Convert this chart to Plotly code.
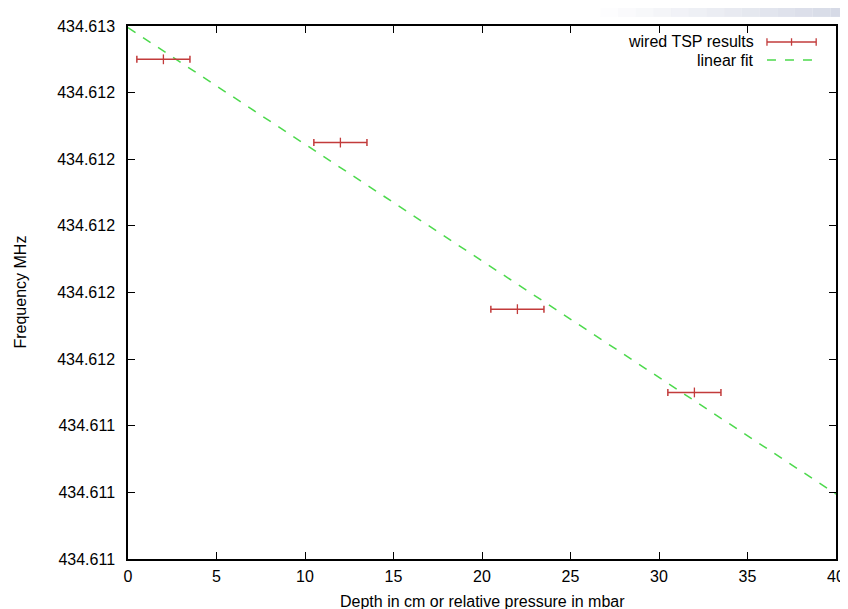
import numpy as np
import plotly.graph_objects as go

# Messwerte: Tiefe (cm) und Frequenz (MHz), x-Fehler +-1.5
depth = [2, 12, 22, 32]
freq = [434.6125, 434.61225, 434.61175, 434.6115]
depth_err = [1.5, 1.5, 1.5, 1.5]

x_ticks = [0, 5, 10, 15, 20, 25, 30, 35, 40]
y_ticks = [434.6110, 434.6112, 434.6114, 434.6116, 434.6118,
           434.6120, 434.6122, 434.6124, 434.6126]

red = "#c23b3b"
green = "#4cd94c"

# lineare Regression
slope, icept = np.polyfit(depth, freq, 1)
fit_x = [x_ticks[0], x_ticks[-1]]
fit_y = [icept + slope * xv for xv in fit_x]

fig = go.Figure()
fig.add_trace(go.Scatter(
    x=fit_x, y=fit_y, mode="lines",
    line=dict(color=green, width=1.5, dash="dash"),
    showlegend=False,
))
fig.add_trace(go.Scatter(
    x=depth, y=freq, mode="markers",
    marker=dict(symbol="line-ns", size=7, line=dict(color=red, width=1.3)),
    error_x=dict(type="data", array=depth_err, color=red, thickness=1.5, width=3.5),
    showlegend=False,
))

# Legende im gnuplot-Stil (Text links, Symbol rechts)
fig.add_annotation(x=0.887, y=0.970, xref="paper", yref="paper", text="wired TSP results",
                   showarrow=False, xanchor="right", yanchor="middle")
fig.add_annotation(x=0.887, y=0.936, xref="paper", yref="paper", text="linear fit",
                   showarrow=False, xanchor="right", yanchor="middle")

# Achsentitel
fig.add_annotation(x=0.5, y=-0.079, xref="paper", yref="paper",
                   text="Depth in cm or relative pressure in mbar",
                   showarrow=False, xanchor="center", yanchor="middle")
fig.add_annotation(x=-0.1525, y=0.5, xref="paper", yref="paper", text="Frequency MHz",
                   textangle=-90, showarrow=False, xanchor="center", yanchor="middle")

shapes = []
# Legendensymbole
shapes.append(dict(type="line", xref="paper", yref="paper", x0=0.9025, x1=0.972,
                   y0=0.970, y1=0.970, line=dict(color=red, width=1.5)))
for xs in [0.9025, 0.9372, 0.972]:
    shapes.append(dict(type="line", xref="paper", yref="paper", x0=xs, x1=xs,
                       y0=0.963, y1=0.977, line=dict(color=red, width=1.3)))
shapes.append(dict(type="line", xref="paper", yref="paper", x0=0.9025, x1=0.972,
                   y0=0.936, y1=0.936, line=dict(color=green, width=1.5, dash="dash")))

# Hintergrund-Deko (Folien-Verlauf oben rechts)
for i in range(14):
    shapes.append(dict(type="rect", xref="paper", yref="paper",
                       x0=0.667 + i * 0.025, x1=0.667 + (i + 1) * 0.025,
                       y0=1.017, y1=1.04, line_width=0,
                       fillcolor="rgba(205,210,225,%.2f)" % (0.04 + i * 0.06), layer="below"))
fig.update_layout(shapes=shapes)

# Seite hat 8px Rand -> Figur etwas kleiner
fig.update_layout(
    width=840, height=601,
    margin=dict(l=120, r=12, t=18, b=50),
    paper_bgcolor="white", plot_bgcolor="white",
    font=dict(family="Liberation Sans, Arial, sans-serif", size=16, color="black"),
)
fig.update_xaxes(
    range=[0, 40], tickvals=x_ticks, showgrid=False, zeroline=False,
    ticks="inside", ticklen=7, tickwidth=1.3, tickcolor="black",
    showline=True, linecolor="black", linewidth=1.5, mirror="ticks",
    ticklabelstandoff=2, automargin=False,
)
fig.update_yaxes(
    range=[434.6110, 434.6126], tickvals=y_ticks, tickformat=".3f",
    showgrid=False, zeroline=False,
    ticks="inside", ticklen=7, tickwidth=1.3, tickcolor="black",
    showline=True, linecolor="black", linewidth=1.5, mirror="ticks",
    ticklabelstandoff=8, automargin=False,
)

fig.write_html("out.html")
